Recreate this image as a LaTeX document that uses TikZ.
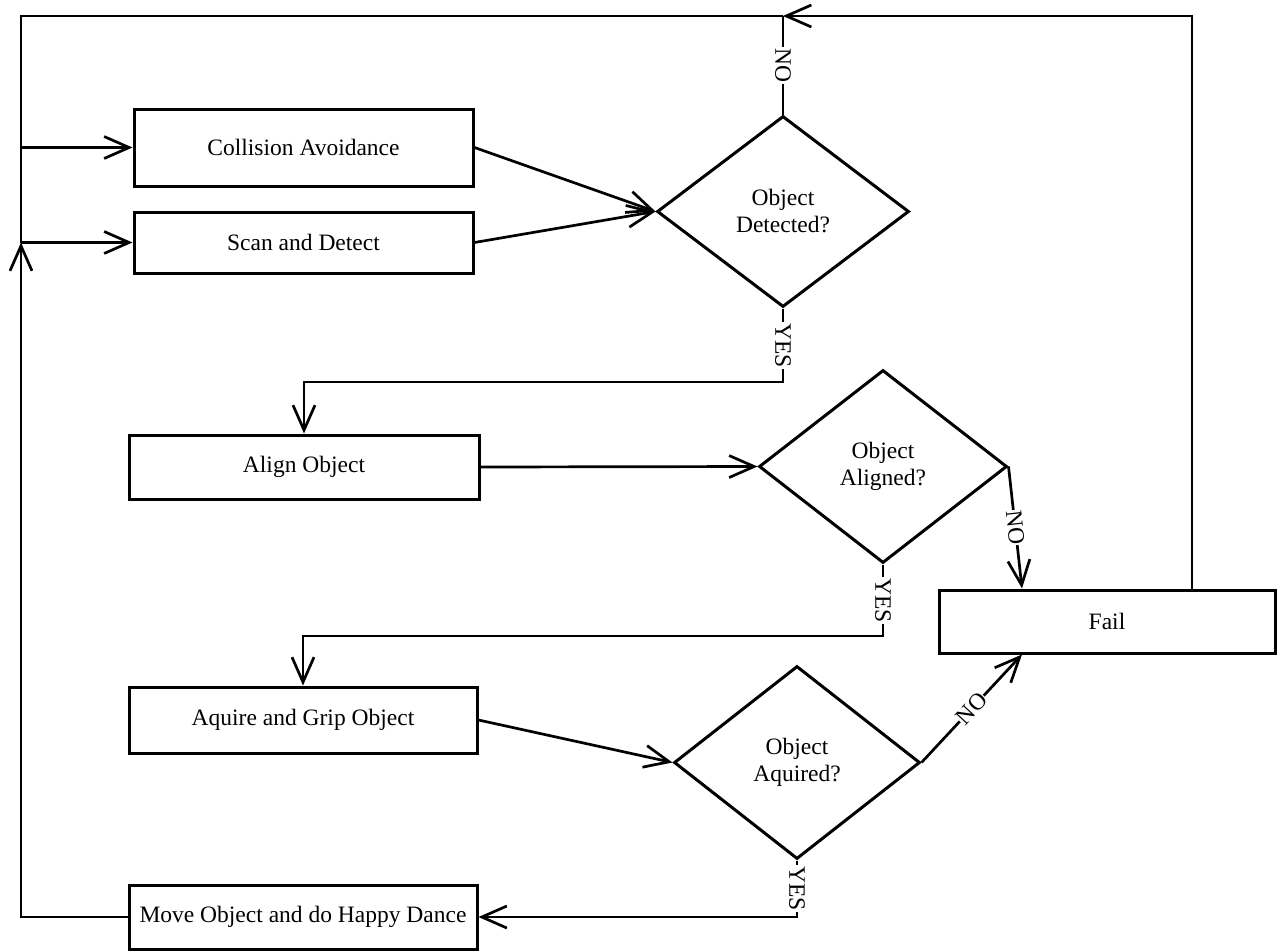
\documentclass[tikz,border=0pt]{standalone}
\usepackage{fontspec}
\setmainfont{Liberation Serif}
\usetikzlibrary{shapes.geometric,arrows.meta,calc}
\begin{document}
\begin{tikzpicture}[x=1pt,y=-1pt,
  txt/.style={font=\fontsize{23.5}{27}\selectfont},
  box/.style={txt,draw,line width=3pt,rectangle,inner sep=0pt,align=center},
  dec/.style={txt,draw,line width=3pt,diamond,inner sep=0pt,align=center},
  conn/.style={line width=2.7pt},
  arr/.style={conn,-{Straight Barb[length=25pt,width=22pt]}},
  lbl/.style={txt,fill=white,inner sep=1.5pt}
]
\useasboundingbox (0,0) rectangle (1282,951);

\node[box,minimum width=339pt,minimum height=77pt] (coll) at (303.5,147.5) {Collision Avoidance};
\node[box,minimum width=339pt,minimum height=61pt] (scan) at (303.5,242.5) {Scan and Detect};
\node[dec,minimum width=252pt,minimum height=191pt] (d1) at (783,211.5) {Object\\Detected?};
\node[box,minimum width=350pt,minimum height=64pt] (align) at (304,467) {Align Object};
\node[dec,minimum width=248pt,minimum height=193pt] (d2) at (883,466.5) {Object\\Aligned?};
\node[box,minimum width=336pt,minimum height=63pt] (fail) at (1107,621.5) {Fail};
\node[box,minimum width=348pt,minimum height=66pt] (aquire) at (303,720) {Aquire and Grip Object};
\node[dec,minimum width=246pt,minimum height=193pt] (d3) at (797,762.5) {Object\\Aquired?};
\node[box,minimum width=348pt,minimum height=64pt] (move) at (303,917) {Move Object and do Happy Dance};

\coordinate (tl) at (21,16);
\coordinate (tj) at (783,16);
\coordinate (tr) at (1192,16);
\coordinate (lc) at (21,147.5);
\coordinate (lj) at (21,242.5);
\coordinate (bl) at (21,917);
\coordinate (y1) at (0,382);
\coordinate (y2) at (0,636);
\coordinate (f2) at (1022,0);

\draw[arr] (fail.north -| tr) -- (tr) -- (tj);
\draw[conn] (d1.north) -- node[lbl,rotate=-90]{NO} (tj);
\draw[conn] (tj) -- (tl) -- (lj);
\draw[arr] (lc) -- (coll.west);
\draw[arr] (lj) -- (scan.west);
\draw[arr] (move.west) -- (bl) -- (lj);
\draw[arr] (coll.east) -- (d1.west);
\draw[arr] (scan.east) -- (d1.west);
\draw[arr] (d1.south) -- node[lbl,rotate=-90]{YES} (d1.south |- y1) -| (align.north);
\draw[arr] (align.east) -- (d2.west);
\draw[arr] (d2.east) -- node[lbl,sloped,inner sep=0.5pt]{NO} (fail.north -| f2);
\draw[arr] (d2.south) -- node[lbl,rotate=-90]{YES} (d2.south |- y2) -| (aquire.north);
\draw[arr] (aquire.east) -- (d3.west);
\draw[arr] (d3.east) -- node[lbl,sloped,inner sep=0.5pt]{NO} (fail.south -| f2);
\draw[arr] (d3.south) -- node[lbl,rotate=-90]{YES} (d3.south |- move.east) -- (move.east);
\end{tikzpicture}
\end{document}
